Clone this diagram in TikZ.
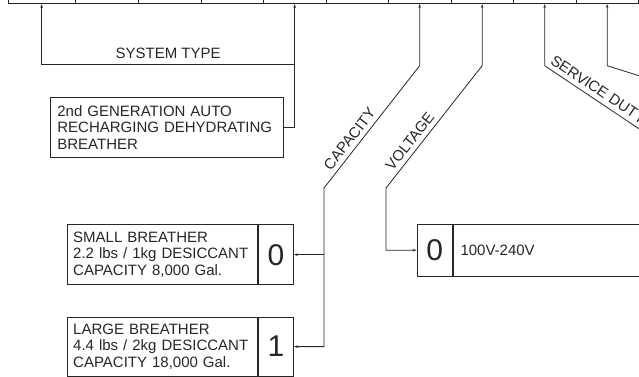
\documentclass[tikz,border=0pt]{standalone}
\usepackage{fontspec}
\setmainfont{Liberation Sans}
\usepackage{tikz}
\usetikzlibrary{arrows.meta, positioning, calc}

\begin{document}
\begin{tikzpicture}[x=1pt, y=-1pt, >={Stealth[length=4pt, width=2.6pt]},
  color=black!85, line width=0.8pt,
  every node/.style={font=\fontsize{15}{16.5}\selectfont},
  codecell/.style={draw, minimum height=40pt, inner sep=0pt},
  descbox/.style={draw, align=left, inner ysep=2pt},
  digitbox/.style={draw, minimum width=35pt, inner sep=0pt, font=\fontsize{30}{30}\selectfont}]
\useasboundingbox (0,0) rectangle (639,376);
\clip (0,0) rectangle (639,376);

% part number strip (cut off at the top)
\foreach \i/\xa/\xb in {1/7.5/75, 2/75/138, 3/138/200.5, 4/200.5/263, 5/263/325.5,
                        6/325.5/388, 7/388/450.5, 8/450.5/513, 9/513/575.5, 10/575.5/638}
  \node[codecell, minimum width={\xb-\xa}, anchor=south west] (c\i) at (\xa,4) {};

% option boxes
\node[descbox, inner xsep=7pt, text width=219pt, minimum height=60pt, anchor=north west]
  (systxt) at (50,97) {2nd GENERATION AUTO\\RECHARGING DEHYDRATING\\BREATHER};

\node[descbox, inner xsep=5.5pt, text width=179pt, minimum height=60pt, anchor=north west]
  (smalltxt) at (67.3,224.3) {SMALL BREATHER\\2.2 lbs / 1kg DESICCANT\\CAPACITY 8,000 Gal.};
\node[digitbox, minimum height=60pt, anchor=north west] (smallno) at (smalltxt.north east) {0};

\node[descbox, inner xsep=5.5pt, text width=179pt, minimum height=59pt, anchor=north west]
  (largetxt) at (67.3,316.7) {LARGE BREATHER\\4.4 lbs / 2kg DESICCANT\\CAPACITY 18,000 Gal.};
\node[digitbox, minimum height=59pt, anchor=north west] (largeno) at (largetxt.north east) {1};

\node[digitbox, minimum height=51.7pt, anchor=north west] (voltno) at (416.7,224) {0};
\node[descbox, inner xsep=7.6pt, text width=285pt, minimum height=51.7pt, anchor=north west]
  (volttxt) at (voltno.north east) {100V-240V};

% bends of the leaders
\path (c5.south) ++(0,60) coordinate (sysjoin);
\path (c7.south) ++(0,61.7) coordinate (capup);
\coordinate (caplow) at (324,188);
\path (c8.south) ++(0,61.7) coordinate (voltup);
\coordinate (voltlow) at (386,188);
\path (c9.south) ++(0,61.7) coordinate (dutyup);
\path (dutyup) ++(166,111) coordinate (dutyend);
\path (c10.south) ++(0,61.7) coordinate (lastup);
\path (lastup) ++(95,30) coordinate (lastend);

% leaders
\draw[<-] (c1.south) |- node[pos=0.75, above=1.5pt] {SYSTEM TYPE} (sysjoin);
\draw[<-] (c5.south) -- (sysjoin) |- (systxt.east);
\draw[<->] (largeno.east) -| (caplow) -- node[sloped, above=1pt, pos=0.35] {CAPACITY} (capup) -- (c7.south);
\draw[->] (caplow |- smallno.east) -- (smallno.east);
\draw[<->] (voltno.west) -| (voltlow) -- node[sloped, above=1pt, pos=0.33] {VOLTAGE} (voltup) -- (c8.south);
\draw[<-] (c9.south) -- (dutyup) -- node[sloped, above=1pt, pos=0.29] {SERVICE DUTY} (dutyend);
\draw[<-] (c10.south) -- (lastup) -- (lastend);
\end{tikzpicture}
\end{document}
